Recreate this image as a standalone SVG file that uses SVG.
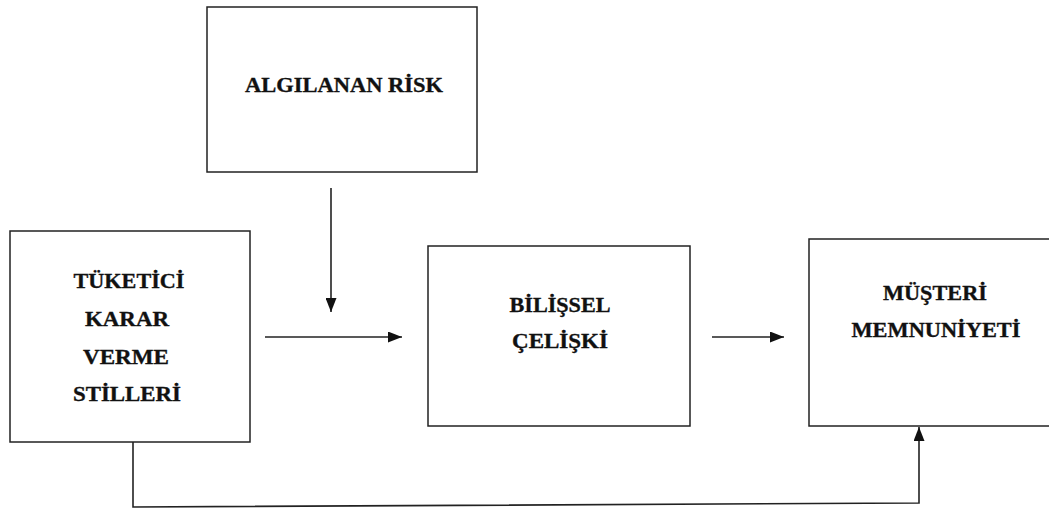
<svg xmlns="http://www.w3.org/2000/svg" width="1049" height="512" viewBox="0 0 1049 512">
<style>
.box{fill:#fff;stroke:#222;stroke-width:1.5}
.lbl{font-family:"Liberation Serif","Times New Roman",serif;font-weight:bold;font-size:22px;fill:#111;stroke:#111;stroke-width:0.35;text-anchor:middle}
.con{fill:none;stroke:#222;stroke-width:1.6}
</style>
<defs>
<marker id="ah" viewBox="0 0 14 11" refX="14" refY="5.5" markerWidth="14" markerHeight="11" markerUnits="userSpaceOnUse" orient="auto">
<path d="M0,0 L14,5.5 L0,11 Z" fill="#111"/>
</marker>
</defs>
<rect width="1049" height="512" fill="#fff"/>
<g id="risk">
<rect class="box" x="207" y="7" width="270" height="165"/>
<text class="lbl" x="344" y="92" textLength="198" lengthAdjust="spacingAndGlyphs">ALGILANAN RİSK</text>
</g>
<g id="tuketici">
<rect class="box" x="10" y="231" width="240" height="211"/>
<text class="lbl" x="129" y="288" textLength="111" lengthAdjust="spacingAndGlyphs">TÜKETİCİ</text>
<text class="lbl" x="127" y="326" textLength="84" lengthAdjust="spacingAndGlyphs">KARAR</text>
<text class="lbl" x="126" y="364" textLength="86" lengthAdjust="spacingAndGlyphs">VERME</text>
<text class="lbl" x="127" y="401" textLength="108" lengthAdjust="spacingAndGlyphs">STİLLERİ</text>
</g>
<g id="bilissel">
<rect class="box" x="428" y="246" width="262" height="180"/>
<text class="lbl" x="560" y="312" textLength="101" lengthAdjust="spacingAndGlyphs">BİLİŞSEL</text>
<text class="lbl" x="560" y="348" textLength="96" lengthAdjust="spacingAndGlyphs">ÇELİŞKİ</text>
</g>
<g id="musteri">
<rect class="box" x="809" y="239" width="252" height="187"/>
<text class="lbl" x="935" y="300" textLength="104" lengthAdjust="spacingAndGlyphs">MÜŞTERİ</text>
<text class="lbl" x="936" y="337" textLength="169" lengthAdjust="spacingAndGlyphs">MEMNUNİYETİ</text>
</g>
<g id="connectors">
<line class="con" x1="331" y1="188" x2="331" y2="312" marker-end="url(#ah)"/>
<line class="con" x1="265" y1="337" x2="402" y2="337" marker-end="url(#ah)"/>
<line class="con" x1="712" y1="337" x2="784" y2="337" marker-end="url(#ah)"/>
<polyline class="con" points="133,442 133,507 919,503 919,427" marker-end="url(#ah)"/>
</g>
</svg>
